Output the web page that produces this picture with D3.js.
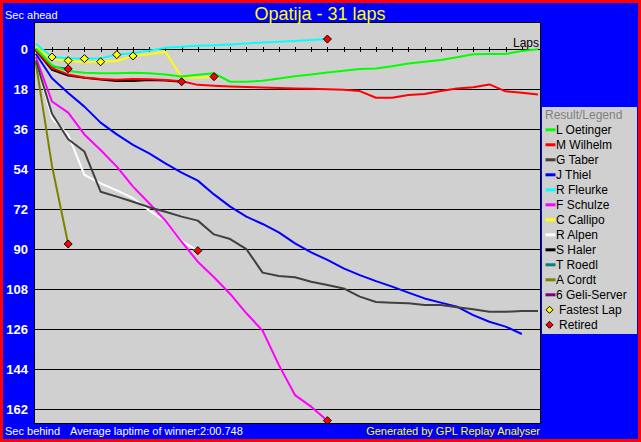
<!DOCTYPE html>
<html><head><meta charset="utf-8">
<script src="https://cdn.jsdelivr.net/npm/d3@7"></script>
<style>html,body{margin:0;padding:0;background:#0000ff;overflow:hidden}
text{font-family:"Liberation Sans",Arial,sans-serif}</style>
</head><body>
<svg id="chart" width="641" height="442"></svg>
<script>
// ---- data ----
const title = "Opatija - 31 laps";
const totalLaps = 31;
const drivers = ["L Oetinger","M Wilhelm","G Taber","J Thiel","R Fleurke","F Schulze","C Callipo","R Alpen","S Haler","T Roedl","A Cordt","6 Geli-Server"];
const colors  = ["#00ff00","#ff0000","#404040","#0000ff","#00ffff","#ff00ff","#ffff00","#ffffff","#000000","#008080","#808000","#800080"];
// seconds behind reference (lap index = array index, starting at lap 0)
const oetinger = [-0.5,7.2,9.8,10.5,10.8,10.8,10.6,10.8,11.3,12.2,11.5,10.8,14.6,14.6,14.2,13.1,12.1,11.3,10.4,9.6,8.9,8.6,7.6,6.4,5.6,4.8,3.6,2.2,2.1,2.1,0.8,0];
const wilhelm  = [0.2,8.5,11.3,12.7,13.4,13.7,13.4,13.5,13.8,14.4,16.0,16.4,16.7,17.0,17.2,17.4,17.6,17.8,18.0,18.2,18.8,21.8,21.8,20.6,20.1,18.8,17.6,17.1,15.8,18.9,19.6,20.3];
const taber    = [5,29,40.5,46,64.1,66.3,68.6,71.1,73.1,75.3,77.1,83.3,85.4,89.9,100.5,102,102.6,104.6,106.1,107.6,111.3,113.7,114,114.3,115.1,115.1,116.1,117,118.1,118.1,117.8,117.8];
const thiel    = [2,13,19.7,25.8,33,38.3,43,46.8,51.3,55.5,59.1,65.3,70.8,75.3,78.6,82.4,87.3,91.4,94.8,98.6,101.6,104.3,106.8,109.5,112.1,114,115.8,119.6,122.6,124.8,128.1];
const fleurke  = [-2.5,3.5,4.0,4.2,4.0,2.4,1.7,0.6,-0.7,-1.2,-1.6,-1.8,-2.2,-2.6,-3.1,-3.4,-3.7,-4.2,-4.6];
const schulze  = [3.5,23.5,28.5,38.3,45.3,52.8,61.8,69.3,77.1,86.6,95.6,102.6,110.1,118.8,126.6,142,155.6,160.8,167.1];
const callipo  = [-1.2,4.5,5.1,5.8,5.6,5.3,3.0,2.2,1.1,12.6,12.8,12.3];
const alpen    = [4.5,31,38.5,56.5,60.3,63.5,67,72.5,77.3,86.3,90.6];
const haler    = [0.5,9.2,11.8,12.8,13.6,14.3,14.3,13.8,14.0,14.6];
const roedl    = [0,7.8,8.8];
const cordt    = [6,52.5,87.6];
const geli     = [];
const seriesValues = [oetinger,wilhelm,taber,thiel,fleurke,schulze,callipo,alpen,haler,roedl,cordt,geli];
// markers
const fastestLapDrivers = ["R Fleurke","C Callipo","R Fleurke","C Callipo","R Fleurke","C Callipo"];
const fastestLapLaps    = [1,2,3,4,5,6];
const retiredDrivers    = ["A Cordt","T Roedl","S Haler","R Alpen","C Callipo","F Schulze","R Fleurke"];
const yTicks = [0,18,36,54,72,90,108,126,144,162];
const xTicks = d3.range(1,31);

// ---- layout ----
const W = 641, H = 442;
const plot = {l:34, t:22, r:540, b:423};
const svg = d3.select("#chart");

svg.append("rect").attr("width",W).attr("height",H).attr("fill","#0000ff");
svg.append("rect").attr("x",1.5).attr("y",1.5).attr("width",W-3).attr("height",H-3)
  .attr("fill","none").attr("stroke","#ff0000").attr("stroke-width",3);

const x = d3.scaleLinear().domain([0,totalLaps]).range([35.8,538]);
const y = d3.scaleLinear().domain([0,162]).range([49.3,409.3]);

svg.append("rect").attr("x",plot.l+0.5).attr("y",plot.t+0.5)
  .attr("width",plot.r-plot.l).attr("height",plot.b-plot.t)
  .attr("fill","#d0d0d0").attr("stroke","#000").attr("stroke-width",1);

svg.append("clipPath").attr("id","clip").append("rect")
  .attr("x",plot.l+1).attr("y",plot.t+1).attr("width",plot.r-plot.l-1).attr("height",plot.b-plot.t-1);

// grid lines
svg.append("g").selectAll("line").data(yTicks).join("line")
  .attr("x1",plot.l).attr("x2",plot.r)
  .attr("y1",d=>Math.round(y(d))+0.5).attr("y2",d=>Math.round(y(d))+0.5)
  .attr("stroke","#000").attr("stroke-width",1).attr("shape-rendering","crispEdges");

// x axis ticks on zero line
const xAxis = d3.axisBottom(x).tickValues(xTicks).tickSize(5).tickFormat("");
const gx = svg.append("g").attr("transform",`translate(0,${Math.round(y(0))-2})`).call(xAxis);
gx.select(".domain").remove();
gx.selectAll("line").attr("stroke","#000").attr("shape-rendering","crispEdges");

svg.append("text").attr("x",539).attr("y",46.5).attr("text-anchor","end")
  .attr("font-size",12).attr("fill","#000").text("Laps");

// y axis labels
const yAxis = d3.axisLeft(y).tickValues(yTicks).tickSize(0).tickPadding(0);
const gy = svg.append("g").attr("transform","translate(28,0)").call(yAxis);
gy.select(".domain").remove();
gy.selectAll("text").attr("fill","#fff").attr("font-size",13).attr("font-weight","bold")
  .attr("font-family","'Liberation Sans',Arial,sans-serif").attr("dy","0.36em");

// lines (first legend entry on top)
const line = d3.line().x((d,i)=>x(i)).y(d=>y(d));
const gl = svg.append("g").attr("clip-path","url(#clip)");
const order = d3.range(drivers.length).reverse();
gl.selectAll("path").data(order.filter(i=>seriesValues[i].length>1)).join("path")
  .attr("d",i=>line(seriesValues[i]))
  .attr("fill","none").attr("stroke",i=>colors[i]).attr("stroke-width",2)
  .attr("stroke-linejoin","round");

// markers
const diamond = "M0,-4L4,0L0,4L-4,0Z";
const mk = svg.append("g").attr("clip-path","url(#clip)");
fastestLapDrivers.forEach((dr,k)=>{
  const vals = seriesValues[drivers.indexOf(dr)];
  const lp = fastestLapLaps[k];
  mk.append("path").attr("d",diamond)
    .attr("transform",`translate(${x(lp)},${y(vals[lp])})`)
    .attr("fill","#ffff00").attr("stroke","#000").attr("stroke-width",1);
});
retiredDrivers.forEach(dr=>{
  const vals = seriesValues[drivers.indexOf(dr)];
  const lp = vals.length-1;
  mk.append("path").attr("d",diamond)
    .attr("transform",`translate(${x(lp)},${y(vals[lp])})`)
    .attr("fill","#ff0000").attr("stroke","#000").attr("stroke-width",1);
});

// title & labels
svg.append("text").attr("x",320).attr("y",20).attr("text-anchor","middle")
  .attr("font-size",18).attr("fill","#ffff00").text(title);
svg.append("text").attr("x",5).attr("y",19).attr("font-size",11).attr("fill","#fff").text("Sec ahead");
svg.append("text").attr("x",5).attr("y",435).attr("font-size",11).attr("fill","#fff").text("Sec behind");
svg.append("text").attr("x",70).attr("y",435).attr("font-size",11).attr("fill","#fff").text("Average laptime of winner:2:00.748");
svg.append("text").attr("x",540).attr("y",435).attr("text-anchor","end").attr("font-size",11).attr("fill","#ffff00").text("Generated by GPL Replay Analyser");

// legend
const lg = svg.append("g");
lg.append("rect").attr("x",542).attr("y",107).attr("width",95).attr("height",227).attr("fill","#d0d0d0");
lg.append("text").attr("x",545).attr("y",118.5).attr("font-size",12).attr("fill","#808080").text("Result/Legend");
const legendItems = drivers.map((d,i)=>({label:d,color:colors[i],type:"line"}))
  .concat([{label:"Fastest Lap",color:"#ffff00",type:"marker"},{label:"Retired",color:"#ff0000",type:"marker"}]);
const li = lg.selectAll("g.item").data(legendItems).join("g").attr("class","item")
  .attr("transform",(d,i)=>`translate(0,${134.3+15*i})`);
li.filter(d=>d.type==="line").append("line")
  .attr("x1",545.5).attr("x2",555.5).attr("y1",-4.5).attr("y2",-4.5)
  .attr("stroke",d=>d.color).attr("stroke-width",3);
li.filter(d=>d.type==="marker").append("path").attr("d","M0,-3.5L3.5,0L0,3.5L-3.5,0Z")
  .attr("transform","translate(549.5,-4.5)").attr("fill",d=>d.color).attr("stroke","#000").attr("stroke-width",1);
li.append("text").attr("x",d=>d.type==="line"?556:559).attr("y",0)
  .attr("font-size",12).attr("fill","#000").text(d=>d.label);
</script>
</body></html>
